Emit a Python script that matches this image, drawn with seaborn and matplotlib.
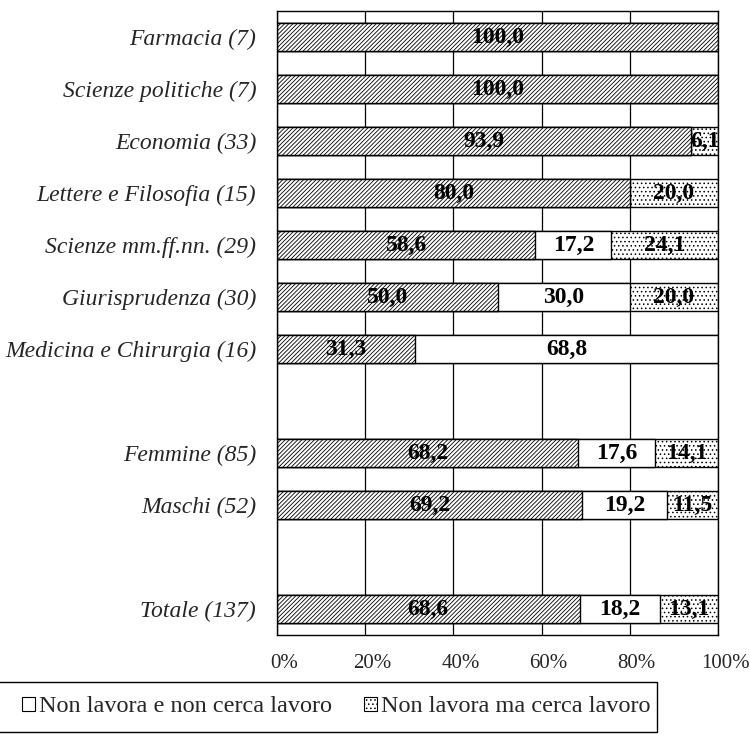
import numpy as np
import pandas as pd
import seaborn as sns
import matplotlib.pyplot as plt
from matplotlib.patches import Patch, Rectangle
from matplotlib.transforms import ScaledTranslation

categories = ["Farmacia (7)", "Scienze politiche (7)", "Economia (33)",
              "Lettere e Filosofia (15)", "Scienze mm.ff.nn. (29)",
              "Giurisprudenza (30)", "Medicina e Chirurgia (16)",
              "Femmine (85)", "Maschi (52)", "Totale (137)"]
lavora = [100.0, 100.0, 93.9, 80.0, 58.6, 50.0, 31.3, 68.2, 69.2, 68.6]
non_cerca = [0.0, 0.0, 0.0, 0.0, 17.2, 30.0, 68.8, 17.6, 19.2, 18.2]
cerca = [0.0, 0.0, 6.1, 20.0, 24.1, 20.0, 0.0, 14.1, 11.5, 13.1]
series_names = ["Lavora", "Non lavora e non cerca lavoro", "Non lavora ma cerca lavoro"]
gap1, gap2 = " ", "  "
order = categories[:7] + [gap1] + categories[7:9] + [gap2] + categories[9:]
tick_values = [0, 20, 40, 60, 80, 100]
tick_labels = ["0%", "20%", "40%", "60%", "80%", "100%"]

df = pd.DataFrame({"cat": categories, "lavora": lavora,
                   "non_cerca": non_cerca, "cerca": cerca})
df["c2"] = df["lavora"] + df["non_cerca"]
df["c3"] = df["c2"] + df["cerca"]

sns.set_theme(style="white")
plt.rcParams["font.family"] = ["Liberation Serif", "DejaVu Serif"]
plt.rcParams["hatch.linewidth"] = 0.6

fig = plt.figure(figsize=(7.5, 7.54), dpi=100)
ax = fig.add_axes([277/750, 1-635/754, (718-277)/750, (635-11)/754])

bw = 0.54
DIAG = "////////"
DOTS = "...."
common = dict(orient="h", order=order, width=bw, saturation=1,
              edgecolor="black", linewidth=1.0, ax=ax, zorder=3)
sns.barplot(data=df, x="c3", y="cat", color="white", hatch=DOTS, **common)
sns.barplot(data=df, x="c2", y="cat", color="white", **common)
sns.barplot(data=df, x="lavora", y="cat", color="white", hatch=DIAG, **common)

ax.set_xlim(0, 100)
ax.set_ylim(len(order) - 0.5, -0.5)
ax.set_xticks(tick_values)
ax.set_xticklabels(tick_labels, fontsize=15)
ax.set_yticks(range(len(order)))
ax.set_yticklabels(order, fontsize=17, style="italic")
ax.tick_params(axis="x", length=0, pad=14)
ax.tick_params(axis="y", length=0, pad=15)
off = ScaledTranslation(7/100, 0, fig.dpi_scale_trans)
for lab in ax.xaxis.get_majorticklabels():
    lab.set_transform(lab.get_transform() + off)
ax.set_xlabel("")
ax.set_ylabel("")
ax.set_axisbelow(True)
ax.xaxis.grid(True, color="black", linewidth=0.9)
ax.yaxis.grid(False)
for s in ax.spines.values():
    s.set_color("black")
    s.set_linewidth(1.0)
    s.set_zorder(5)

def fmt(v):
    return f"{v:.1f}".replace(".", ",")

for i, row in df.iterrows():
    y = order.index(row["cat"])
    starts = [0, row["lavora"], row["c2"]]
    vals = [row["lavora"], row["non_cerca"], row["cerca"]]
    for s, v in zip(starts, vals):
        if v > 0:
            ax.text(s + v/2, y, fmt(v), ha="center", va="center",
                    fontsize=17, fontweight="bold", color="black", zorder=6)

# legend box (cut at left edge like the reference)
fig.patches.append(Rectangle((-0.02, 1-732/754), 0.02 + 657/750, 50/754,
                             transform=fig.transFigure, fill=False,
                             edgecolor="black", linewidth=1.0))
handles = [Patch(facecolor="white", edgecolor="black", linewidth=0.8, label=series_names[1]),
           Patch(facecolor="white", edgecolor="black", linewidth=0.8, hatch=DOTS,
                 label=series_names[2])]
fig.legend(handles=handles, loc="center left", bbox_to_anchor=(22/750, 1-707/754),
           ncol=2, frameon=False, fontsize=17.5, handlelength=0.55, handleheight=0.55,
           handletextpad=0.15, columnspacing=1.3, borderpad=0, borderaxespad=0)

fig.savefig("out.png", dpi=100)
